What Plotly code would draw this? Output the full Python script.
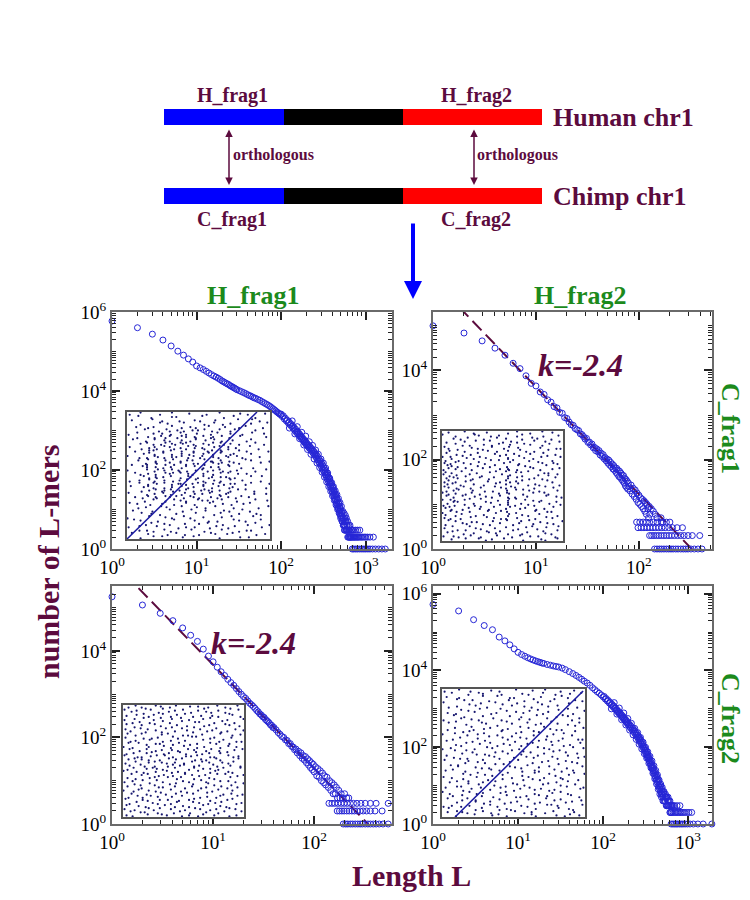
import plotly.graph_objects as go

W, H = 750, 900
PAGE_PAD = 8  # the html body margin shifts the figure by this much on screen
MAROON = "#5c0b3e"
GREEN = "#1c8a1c"
PT_BLUE = "#2626d6"
DOT = "#16166e"
FRAME = "#6a6a6a"
SERIF = "Liberation Serif, Times New Roman, serif"

# ---------------- data ----------------
# chromosome sketch: relative segment lengths (frag1 / middle / frag2)
seg_names = ["frag1", "middle", "frag2"]
seg_len = [1.0, 0.99, 1.16]
seg_colors = ["#0000ff", "#000000", "#ff0000"]

# H_frag1 vs C_frag1 : (L, number of L-mers)
tl_curve = [(1, 590000), (2, 400000), (3, 275000), (4, 195000), (5, 138000), (6, 102000), (7, 81000),
            (8, 65000), (9, 54000), (10, 43000), (11, 38500), (12, 35000), (13, 31500), (14, 28500),
            (15, 26000), (16, 24000), (17, 22500), (18, 21000), (19, 19500), (20, 18000), (21, 17000),
            (22, 16000), (23, 15200), (24, 14500), (25, 13600), (26, 13000), (27, 12400), (28, 11900),
            (29, 11300), (30, 10800), (32, 10200), (34, 9600), (36, 9100), (38, 8600), (40, 8100),
            (42, 7700), (44, 7400), (46, 7000), (48, 6700), (50, 6500), (53, 6100), (56, 5800),
            (59, 5400), (62, 5100), (65, 4800), (68, 4550), (71, 4300), (74, 4050), (77, 3800),
            (80, 3550), (83, 3350), (86, 3150), (89, 2950), (92, 2800), (95, 2650), (98, 2500),
            (100, 2600), (103, 2250), (106, 2350), (109, 1950), (112, 2050), (115, 1750), (118, 1820),
            (121, 1560), (124, 1640), (127, 1400), (130, 1480), (133, 1250), (136, 1320), (139, 1120),
            (142, 1190), (145, 1000), (148, 1080), (151, 900), (154, 960), (157, 820), (160, 880),
            (163, 740), (166, 800), (169, 680), (172, 720), (175, 610), (178, 660), (181, 560),
            (184, 600), (187, 510), (190, 555), (193, 470), (196, 510), (199, 430), (202, 470),
            (206, 400), (210, 430), (214, 360), (218, 395), (222, 330), (226, 360), (230, 300),
            (234, 330), (238, 270), (242, 300), (246, 245), (250, 275), (254, 222), (258, 250),
            (262, 200), (266, 228), (270, 180), (274, 205), (278, 160), (282, 185), (286, 145),
            (290, 168), (294, 130), (298, 152), (302, 116), (306, 138), (310, 104), (314, 124),
            (318, 94), (322, 112), (326, 84), (330, 100), (334, 75), (338, 90), (342, 67), (346, 82),
            (350, 60), (354, 73), (358, 54), (362, 66), (366, 48), (370, 59), (374, 43), (378, 53),
            (382, 38), (386, 47), (390, 34), (394, 43), (398, 30), (402, 39), (406, 27), (410, 35),
            (414, 24), (418, 31), (422, 22), (426, 28), (430, 19), (434, 25), (438, 17), (442, 23),
            (446, 15), (450, 21), (454, 14), (458, 18), (462, 12), (466, 17), (470, 11), (474, 15),
            (478, 10), (482, 14), (486, 9), (490, 12), (494, 8), (498, 11), (502, 7), (506, 10),
            (510, 7), (514, 9), (518, 6), (522, 8), (526, 5), (530, 7), (534, 5), (538, 6), (542, 4),
            (546, 6), (550, 4), (555, 5), (560, 4), (565, 6), (570, 4), (575, 5), (580, 3), (585, 5),
            (590, 3), (595, 4), (600, 3), (606, 4), (612, 2), (618, 3), (624, 2), (630, 3), (636, 2),
            (642, 3), (648, 2)]
tl_spread = [(125, 1150), (135, 1750), (145, 820), (155, 1250), (165, 620), (175, 900), (185, 430),
             (195, 720), (205, 330), (215, 520), (225, 250), (235, 420), (245, 190), (255, 320),
             (265, 150), (275, 250), (285, 115), (295, 190), (305, 88), (315, 150), (325, 66),
             (335, 112), (345, 50), (355, 84), (365, 38), (375, 62), (385, 29), (395, 48), (405, 22),
             (415, 38), (425, 17), (435, 30), (445, 13), (455, 24), (465, 10), (475, 19), (485, 8),
             (495, 15), (505, 6), (515, 12), (525, 5), (535, 9), (545, 4), (555, 8), (565, 3),
             (575, 7), (590, 6), (610, 5), (630, 4), (650, 4), (670, 3), (700, 3)]
tl_ones = [690, 720, 760, 800, 850, 900, 950, 1000, 1060, 1120, 1200, 1300, 1420, 1550, 1700]
tl_twos = [655, 665, 675, 690, 705, 720, 735, 750, 770, 790, 810, 830, 860, 890, 920, 960, 1000,
           1050, 1120, 1230]
tl_threes = [560, 600, 640, 680, 720, 760, 800, 850]

# H_frag2 vs C_frag1
tr_curve = [(1, 100000), (2, 69000), (3, 46000), (4, 31600), (5, 22000), (6, 14500), (7, 11000),
            (8, 7600), (9, 5150), (10, 4500), (11, 3300), (12, 2900), (13, 2200), (14, 1950),
            (15, 1550), (16, 1450), (17, 1150), (18, 1100), (19, 880), (20, 840), (21, 700), (22, 610),
            (23, 590), (24, 500), (25, 470), (26, 450), (27, 380), (28, 365), (29, 330), (30, 290),
            (31, 300), (32, 245), (33, 250), (34, 215), (35, 225), (36, 185), (37, 190), (38, 160),
            (39, 175), (40, 150), (41, 160), (42, 128), (43, 140), (44, 118), (45, 130), (46, 105),
            (47, 112), (48, 95), (49, 104), (50, 84), (51, 98), (52, 76), (53, 88), (54, 70), (55, 80),
            (56, 62), (57, 74), (58, 58), (59, 66), (60, 52), (61, 64), (62, 47), (63, 58), (64, 42),
            (65, 55), (66, 40), (67, 50), (68, 36), (69, 45), (70, 33), (71, 44), (72, 30), (73, 38),
            (74, 26), (75, 36), (76, 24), (77, 33), (78, 22), (79, 30), (80, 25), (82, 20), (84, 27),
            (86, 17), (88, 23), (90, 15), (92, 21), (94, 13), (96, 18), (98, 11), (100, 16), (102, 10),
            (104, 14), (106, 9), (108, 13), (110, 8), (112, 12), (114, 7), (116, 11), (118, 6),
            (120, 10), (122, 8), (124, 5), (126, 9), (128, 6), (132, 8), (138, 7), (144, 6), (150, 5),
            (164, 5), (172, 4)]
tr_ones = [142, 150, 158, 166, 175, 185, 195, 205, 215, 228, 240, 255, 270, 285, 300, 320, 345,
           375, 410]
tr_twos = [127, 133, 140, 148, 156, 165, 175, 185, 196, 208, 222, 238, 255, 275, 300, 330, 390]
tr_threes = [98, 105, 112, 120, 128, 137, 146, 156, 167, 180, 195, 212, 235, 265]
tr_fours = [95, 102, 110, 118, 127, 138, 150, 165, 185, 200]
tr_fit_L = [1, 1000]
tr_fit_n = [1.07e6, 0.068]

# H_frag1 vs C_frag2
bl_curve = [(1, 178000), (2, 115000), (3, 74000), (4, 50000), (5, 34000), (6, 23000), (7, 16600),
            (8, 11000), (9, 7600), (10, 5600), (11, 4200), (12, 3300), (13, 2700), (14, 2200),
            (15, 1850), (16, 1600), (17, 1350), (18, 1150), (19, 1000), (20, 880), (21, 800),
            (22, 700), (23, 620), (24, 570), (25, 520), (26, 470), (27, 420), (28, 390), (29, 350),
            (30, 330), (31, 300), (32, 290), (33, 260), (34, 245), (35, 230), (36, 215), (37, 195),
            (38, 190), (39, 170), (40, 170), (42, 150), (44, 130), (46, 118), (48, 105), (50, 100),
            (52, 88), (54, 85), (56, 72), (58, 72), (60, 62), (62, 60), (64, 52), (66, 54), (68, 44),
            (70, 48), (72, 38), (74, 44), (76, 33), (78, 38), (80, 30), (82, 36), (84, 26), (86, 32),
            (88, 23), (90, 29), (92, 20), (94, 26), (96, 18), (98, 24), (100, 16), (103, 21),
            (106, 13), (109, 19), (112, 12), (115, 17), (118, 10), (121, 15), (124, 9), (127, 13),
            (130, 8), (134, 12), (138, 7), (142, 10), (146, 6), (150, 9), (154, 5), (158, 8),
            (162, 5), (166, 7), (170, 4), (175, 6), (180, 4), (185, 5), (190, 4), (200, 5), (210, 4),
            (220, 4)]
bl_ones = [194, 205, 215, 228, 240, 255, 270, 285, 300, 320, 340, 360, 385, 410, 440, 480, 540]
bl_twos = [169, 178, 188, 198, 210, 222, 236, 250, 266, 285, 305, 330, 360, 400, 470]
bl_threes = [140, 150, 160, 172, 185, 198, 212, 228, 245, 265, 290, 320, 360, 410, 540]
bl_fit_L = [1, 1000]
bl_fit_n = [1.2e6, 0.076]

# H_frag2 vs C_frag2
br_curve = [(1, 525000), (2, 355000), (3, 210000), (4, 148000), (5, 115000), (6, 74000), (7, 59000),
            (8, 46500), (9, 36500), (10, 29600), (11, 26000), (12, 23500), (13, 21500), (14, 20000),
            (15, 18800), (16, 17800), (17, 17000), (18, 16300), (19, 15700), (20, 15200), (22, 14300),
            (24, 13700), (26, 13100), (28, 12700), (30, 12300), (33, 11500), (36, 10500), (40, 9300),
            (44, 8300), (48, 7400), (52, 6600), (56, 5900), (60, 5250), (65, 4700), (70, 4100),
            (75, 3550), (80, 3150), (85, 2800), (90, 2550), (95, 2300), (100, 2050), (103, 2100),
            (106, 1800), (109, 1850), (112, 1600), (115, 1650), (118, 1420), (121, 1480), (124, 1270),
            (127, 1320), (130, 1140), (133, 1190), (136, 1020), (139, 1070), (142, 920), (145, 960),
            (148, 830), (151, 870), (154, 750), (157, 790), (160, 680), (163, 720), (166, 620),
            (169, 660), (172, 560), (175, 600), (178, 510), (181, 550), (184, 470), (187, 500),
            (190, 430), (193, 460), (196, 390), (199, 420), (203, 350), (207, 380), (211, 315),
            (215, 345), (219, 285), (223, 312), (227, 258), (231, 282), (235, 232), (239, 255),
            (243, 208), (247, 230), (251, 186), (255, 206), (259, 166), (263, 185), (267, 148),
            (271, 166), (275, 132), (279, 148), (283, 117), (287, 132), (291, 104), (295, 117),
            (299, 92), (303, 104), (307, 82), (311, 92), (315, 72), (319, 82), (323, 64), (327, 73),
            (331, 56), (335, 64), (339, 50), (343, 57), (347, 44), (351, 50), (355, 39), (359, 45),
            (363, 34), (367, 40), (371, 30), (375, 35), (379, 27), (383, 31), (387, 24), (391, 28),
            (395, 21), (399, 25), (404, 18), (409, 22), (414, 16), (419, 19), (424, 14), (429, 17),
            (434, 12), (439, 15), (444, 10), (449, 13), (454, 9), (459, 11), (464, 8), (469, 10),
            (474, 7), (479, 9), (484, 6), (489, 8), (494, 6), (499, 7), (505, 5), (511, 7), (517, 4),
            (523, 6), (529, 4), (535, 5), (541, 4), (547, 5), (553, 3), (559, 5), (565, 3), (571, 4),
            (577, 3), (583, 4), (589, 3), (595, 4), (601, 3), (610, 2), (620, 3), (630, 2), (640, 3)]
br_spread = [(125, 1000), (135, 1450), (145, 730), (155, 1050), (165, 520), (175, 780), (185, 380),
             (195, 560), (205, 280), (215, 420), (225, 210), (235, 310), (245, 160), (255, 240),
             (265, 120), (275, 180), (285, 90), (295, 135), (305, 68), (315, 100), (325, 52),
             (335, 76), (345, 38), (355, 58), (365, 29), (375, 44), (385, 21), (395, 33), (405, 15),
             (415, 25), (425, 11), (435, 19), (445, 8), (455, 14), (465, 6), (475, 11), (485, 5),
             (495, 9), (505, 4), (520, 7), (540, 6), (560, 5), (580, 5), (610, 4), (640, 3), (670, 3)]
br_ones = [630, 660, 690, 720, 750, 790, 830, 870, 920, 980, 1050, 1150, 1300, 1500, 1900]
br_twos = [617, 640, 665, 690, 715, 740, 770, 800, 830, 870, 910, 960, 1020, 1100]
br_threes = [560, 590, 620, 650, 690, 740, 800]

# dot-plot insets: a digit marks a match, its keypad position gives the spot inside the cell
tl_grid = [
    "3...7.....1..9.....4....2...8.....6..1....5.",
    "...8...2.....6.4.......7.....3..9......2....",
    ".5.....9..3.....1...6.2....4......7...8.3...",
    "....1.....7.5....8.....3..9..2.6......4....7",
    "..6...2.4....9..3..5.1...7....4...2.8....3..",
    ".....8...3..71.5.2..46.9..1.8..3.7.....5....",
    "2..7....4.6..2..8.1..5...3.9...6...2..8...4.",
    "...1..5.2.83.7.29.4.61.8.35..7.2..9.......6.",
    ".9...3..8..5.1..6..2.7..4.9..1..5...3.7.....",
    "....4.7.1.29.63.847.2..5.18.93.6..2....8..1.",
    "6.....3.5..8.4..2.9.37.1..6.8..4.2...9......",
    "..2.8.6.47.1.58.3.7.2..93.4.61.7..5.3...8..2",
    ".....49.2..7.3..6..18..5.72.9..36.....4.....",
    "7..3..1.85.2.6.49.3.8.27..5.1.84.9.2....6...",
    "...5..8.3..6..7.2.5.4..9.31.6..2....8.4....3",
    ".2...61.94.3.72.8.1.56.3..8.47.19.5......7..",
    "....9.4.6..1.5..3.7.9..2.6..4..8...1..3.....",
    "4.....7.28.5.9.61.2..4.73.5.82.3.6.....2..9.",
    "..8.1.5.3..9.47.8.6.1..5..2.9..7..4.6.......",
    ".....73.61.4.8..2.95.3.8.14.6.52.1....7..8..",
    "3..6..9.2..5..1.4.8..7.2..6.3..9...5.....1..",
    "...9..2.74.8.3.65.1.49.27.5.83.6.4..2.7....6",
    ".7...48.1..2.6..9.3.5..8..1.7..25.........3.",
    "....2.6.9.35.81.4.7.2.69.41.5..3..7.8..1....",
    "8.....1.5..7.2..39..6..4.8..2.57.......4..6.",
    "..5.3.8.61.9.4.7.2.85.1..6.39..4.2.7.5......",
    ".....2..7..3..8.5.1..9.46.2..7...3.....8...4",
    "9..4...1..6...2...7.3....8...5..1..6.9......",
    "...2.6....8.4...9....5..1..7....3.......2..8",
    ".6.....3.....7...1.9....4....6.2...8.3......",
    "....8..5..1....4.....7....3.9.....5....6.1..",
    "1.....9....6.3...8.2...5.....4..7.....9.....",
    "..7.4....2....8.....6....1.3....9.5.2....7..",
    ".....3.8...5.1...6....4.9....2.......1.8...3",
    "5..9.....7.....3..4.6....2.8...1.7.......5..",
    "...6..4.1..8.2.....9...3.....7....2.6.4.....",
    ".8....5.....2..7.3....1..9.4..6.8......3..5.",
    "....1...7.9......4..8.......2.....6..5......",
]
tl_diag_x = [0, 40]
tl_diag_y = [0, 38]

tr_grid = [
    "..4....8..2...6......3..9....1...7..5...",
    "7...2.....9.4...1.6.....3.8......2....5.",
    "...6..1.8....3....7..4....2..9.5....1...",
    ".2.....5...7...9....1.6.3.....8...4...6.",
    "....8.3..1...6..2.9...5....7.4...1.8....",
    "9.1......6.3....8...2.7..4......5....3.1",
    "..5..7.2.....8.4..1..6...9.3..2....7....",
    ".8..3....2.9.....5...1.6.....4...8...2..",
    "4.6...9.1...5.2....7.3...8.1....6.9....4",
    ".1.7.2....8.....4.6..9.5....3.7.....2...",
    "6.3.8..4.2..7.1.....5.8..2.....9.4..6.1.",
    ".9.4.1.....6...3.8...2...7.5.1....8.....",
    "2.7.5..9.3...8.....4.61.3.....7.2...5.9.",
    ".4.1..8....2...6.9...7..5.4.8....3.1....",
    "8.2.6..3.7...1.....9.35...2....6...4..7.",
    ".5.9.4....1.8..2.7...6..9...3.5..1...8..",
    "3.7.2..6.8.....4...1.72.5.8.......9.2...",
    ".6.8..1...5..3...9...4...7..2.6.1.....3.",
    "9.4.3..7.2..6....8.5.19.4.....2...7.6...",
    ".2.6.8....4...1.3....5..8.9.6...1.....4.",
    "7.1.5..3.9..2.....6..84...3...7..9.1....",
    ".8.3..9...6...5.2..7.3..1...4.....8..6.2",
    "4.6.1..5.7..9.....2..37.8..5..1.3.......",
    ".3.9.7....2...8.4....6....1.....7..2.9..",
    "5.2.4..8..6.3....1.7.92.4...8.5.....3..7",
    ".7.1..3.9...5..2.....4...6.8...1.6......",
    "1.9.6....4.....7.3.8.5..2.....9...6.4...",
    ".4..2.8....1.6.......37...5.2...7.....1.",
    "6.3...1..8....9..4.2.1..6.....3...8.5...",
    "..7.5....3.2....6....8....4.9...2......6",
    ".1....9.4....5.3...7...2.8....4...9.6...",
    "3..8.....7.1.....2...4.....6.9....5...8.",
    "...2.4.6....9.3....1...5.7.....8.2....4.",
    ".9.....1..5....8.6...3....2.7.....4.1...",
    "5..6.2...8..3.....7....1.9...4.6.....2..",
    "...4...9....7.2.5...8.....3.....6.1...7.",
]

bl_grid = [
    ".3..7.1...9.5..2.8....4.6...1..7.3...9..",
    "5...2..8.4...7...1.6....3.9....2...8..4.",
    "..9...3....6.1.7....2.5....8.4...6.1....",
    ".4..8...2.7....3.9.....1.6...5.2....7.3.",
    "2..6..9...1.8...4..7.3....5.9.....2....6",
    "...1.5..3....7.2...8...6.4....1.9...3...",
    ".7....4...8.2....6...1....3.5....9.4..2.",
    "3..9.6..1.....4.7..5...8.2....6......1..",
    "..5....2..9.3....4...7.1...6.8..2.5....9",
    ".8..1.7.....6.9....3.2....4.....7...1.6.",
    "6.....3..2.5....8.1...9.7...3.4....6....",
    "..2.4...9....1.6....5.....8....3.7...2.1",
    ".9...7.3..6.4...2.8...1.5...9.6....4....",
    "4..1....5....8.3....7...2.6.....1.9..5..",
    "..7..2.9..3.6...4.1..8.5...2.7.3....6..8",
    ".1.5...6.8...2.4..9.3...7.1.5...4.8.....",
    "8...3.1..4.7.9..2...6.5.8...3.1...9.2.4.",
    ".6.9..4.2...1..7.5.8...3.6.2..9.1.....7.",
    "3...7...5.8.6.2..4..1.9...7.5...6.3.8...",
    "..4..9.1..2...3.8.6.7..2.4...9.1...5..3.",
    ".2.8...6.9.4.1...7...3.8..5.6..2.7....9.",
    "7...5.3...6...8.1.4.2...9...3.8...6.1...",
    "..9...4.7..3.5..2...8.6..1.4...7.9...3.6",
    ".5..1...6.8...9..3.7...2....5.1....8....",
    "2..4..8....7.1.....6.3...9.2....4.6..1..",
    "...6.3..9.2....5.8.....4....7.1....3...9",
    ".8....1....6.4...7..2.9..3.5....8.2..6..",
    "4..2.7..5.3....9...1....6....2.8....4...",
    "..6....3....8.1..5...7.4...9.....1.6...2",
    ".3..9.2..7.5....4..8.....2.6..3.7....9..",
    "9.....5.1...4.6...2..6.8....3.....5.7...",
    "..1.8....6.2...3.9.....7.4..1.5.8....2.4",
    ".7...4.2.....9...1.6.3....8.....4.1.....",
    "5..3....8.1.7..6....2..9.5..3.6....7.4..",
    "..8..6.4...2....3.9...1....5...2.8.....7",
    ".4.1....7...9.5....2.6..3.8...4....1.5..",
]

br_grid = [
    "3....8...1.....6..2....9.....4...7....1...5...",
    "...7....2..9.4.....1.....6.3....8...2....4..9.",
    ".5...2.......7...9...3.1.......6......8.2.....",
    "....9..4.6.....1.....5....2..8....3.7.....6..1",
    "8.......3...5....7.2....4.....9.1.......6.....",
    "..1.6.....9...2.......8...5.3.....4..7.....2..",
    "......4.2...7.....9.3.......1.6......5..8....3",
    ".6..2.....8....3.5.....9..4.....2.7.......1...",
    "...9...1.....4.......6...2....8.....3.9.5.....",
    "2.....7..5.3....8..1....6...4....9.......3..7.",
    "..4.8.......6.1.....9.2....5...3...7.1......4.",
    ".......9.2.......6.......1....7.3.......8.6...",
    ".3..7.....1..5.8...2.4.....9......6.3.2......8",
    "....1.6.9....2.....7...3.5...8.4.......1..9...",
    "7.......4..8...1.6....2......5...3.9.....6....",
    "...2.9.....5.......8.1...7.4.....2....6....3.1",
    ".8.....3.6...9.2.......5.....1.7...4.8......2.",
    "....5.1.....7....3.9.6...2.8.......5...1.4....",
    "1.6.......2...8.4.......3.....9.6.2.......7..5",
    "....7..9.3.......1.5..8...4.2......6.9.3......",
    ".2....8....4.6.1.....7...5....3.9.......2..8..",
    "...6.3..1.......9.2....4...7.5.....8.1.....6.9",
    "9.......5..2.7.......3..8.......1.4....6.3....",
    "..3..1.8.....9...4.6.......2.7.......5.....8..",
    ".....7....6.3..1.....9.5.2.....4..8.....1....7",
    ".4.8...2.......9..5......3...6.1....7.2...4...",
    "......6..1.8.3.....2.7.......9....5.....3.8..6",
    "5..1.......4....7.....2..9.6....3...8.1.......",
    "....3.9.2.....6..1.8......4..7.5......9.2..6..",
    "..8.....5..3.7........6.1.......2.4.9.....3...",
    ".1..6.4.....2...9.3.5.....8.1.........7.4....2",
    "......3..8.....5.......1.7...6.9..2.4.......8.",
    "7.2.....9..1.4....6.8........3.....5..7.2.....",
    "...5..8.....6...2...9..3.1.4...7.6.......8..1.",
    ".9....2.7.3.......5........6.....8..1.4.....3.",
    "....6.....9..2.8....1.4.7....3.5.......6.9....",
    "2..4..1.6......8.3.......5.2.....9.7.4.......7",
    "..7.......3.9.....2.6.1.......4......8..6.1...",
    ".6..9.5.1....7.3.......8..2.6....1.9......5...",
    "....2.....8.....4.7.3.......9.1.....6..2.7..4.",
]
br_diag_x = [4.2, 45.4]
br_diag_y = [0, 39.4]


# ---------------- helpers ----------------
def px(x):
    return (x - PAGE_PAD) / W


def py(y):
    return 1 - (y - PAGE_PAD) / H


def grid_dots(rows):
    # keypad layout: 7 8 9 / 4 5 6 / 1 2 3
    xs, ys = [], []
    n = len(rows)
    for r, line in enumerate(rows):
        for c, ch in enumerate(line):
            if ch.isdigit() and ch != "0":
                d = int(ch) - 1
                xs.append(c + 0.17 + 0.33 * (d % 3))
                ys.append(n - r - 1 + 0.17 + 0.33 * (d // 3))
    return xs, ys


def ax_name(i, kind):
    return kind if i == 1 else f"{kind}{i}"


def log_axis(rng, step, dom, anchor):
    top = int(rng[1]) + 1
    ks = list(range(0, top, step))
    minor_vals = [m * 10 ** k for k in range(top) for m in range(2, 10)]
    minor_vals += [10 ** k for k in range(top) if k % step]
    return dict(
        type="log", range=rng, domain=dom, anchor=anchor, automargin=False,
        tickmode="array", tickvals=[10 ** k for k in ks],
        ticktext=[f"10<sup>{k}</sup>" for k in ks],
        ticks="inside", ticklen=8, tickwidth=1.5, tickcolor="#222",
        minor=dict(tickmode="array", tickvals=minor_vals, ticks="inside",
                   ticklen=4, tickwidth=1, tickcolor="#222"),
        showline=True, linecolor=FRAME, linewidth=2, mirror="ticks",
        showgrid=False, zeroline=False,
        tickfont=dict(family=SERIF, size=19, color="black"),
    )


def plain_axis(rng, dom, anchor):
    return dict(range=rng, domain=dom, anchor=anchor, automargin=False, showline=True,
                mirror=True, linecolor="#555", linewidth=2, ticks="", showticklabels=False,
                showgrid=False, zeroline=False)


# ---------------- panels ----------------
panels = [
    dict(curve=tl_curve + tl_spread, rows=[(1, tl_ones), (2, tl_twos), (3, tl_threes)], fit=None,
         xr=[0, 3.31], yr=[0, 6], box=(112, 312, 392, 549),
         grid=tl_grid, ibox=(127, 412, 270, 539), diag=(tl_diag_x, tl_diag_y)),
    dict(curve=tr_curve, rows=[(1, tr_ones), (2, tr_twos), (3, tr_threes), (4, tr_fours)],
         fit=(tr_fit_L, tr_fit_n),
         xr=[0, 2.71], yr=[0, 5.31], box=(433, 312, 712, 549),
         grid=tr_grid, ibox=(442, 431, 563, 541), diag=None),
    dict(curve=bl_curve, rows=[(1, bl_ones), (2, bl_twos), (3, bl_threes)],
         fit=(bl_fit_L, bl_fit_n),
         xr=[0, 2.77], yr=[0, 5.5], box=(112, 586, 392, 824),
         grid=bl_grid, ibox=(123, 705, 244, 817), diag=None),
    dict(curve=br_curve + br_spread, rows=[(1, br_ones), (2, br_twos), (3, br_threes)], fit=None,
         xr=[0, 3.28], yr=[0, 6.2], box=(433, 586, 712, 824),
         grid=br_grid, ibox=(442, 689, 585, 817), diag=(br_diag_x, br_diag_y)),
]

fig = go.Figure()
layout_axes = {}

for i, p in enumerate(panels, start=1):
    xa, ya = ax_name(i, "x"), ax_name(i, "y")
    x0, y0, x1, y1 = p["box"]
    layout_axes[ax_name(i, "xaxis")] = log_axis(p["xr"], 1, [px(x0), px(x1)], ya)
    layout_axes[ax_name(i, "yaxis")] = log_axis(p["yr"], 2, [py(y1), py(y0)], xa)

    if p["fit"]:
        fig.add_trace(go.Scatter(x=p["fit"][0], y=p["fit"][1], mode="lines", xaxis=xa, yaxis=ya,
                                 line=dict(color=MAROON, width=2, dash="13px,6px")))
    L = [v[0] for v in p["curve"]]
    n = [v[1] for v in p["curve"]]
    for cnt, Ls in p["rows"]:
        L += Ls
        n += [cnt] * len(Ls)
    fig.add_trace(go.Scatter(x=L, y=n, mode="markers", xaxis=xa, yaxis=ya, cliponaxis=False,
                             marker=dict(symbol="circle-open", size=6, color=PT_BLUE,
                                         line=dict(width=1))))

    # inset dot plot
    j = i + 4
    xi, yi = ax_name(j, "x"), ax_name(j, "y")
    ix0, iy0, ix1, iy1 = p["ibox"]
    ncol = max(len(r) for r in p["grid"])
    nrow = len(p["grid"])
    layout_axes[ax_name(j, "xaxis")] = plain_axis([0, ncol], [px(ix0), px(ix1)], yi)
    layout_axes[ax_name(j, "yaxis")] = plain_axis([0, nrow], [py(iy1), py(iy0)], xi)
    dx, dy = grid_dots(p["grid"])
    fig.add_trace(go.Scatter(x=dx, y=dy, mode="markers", xaxis=xi, yaxis=yi,
                             marker=dict(size=2.2, color=DOT, line=dict(width=0))))
    if p["diag"]:
        fig.add_trace(go.Scatter(x=p["diag"][0], y=p["diag"][1], mode="lines", xaxis=xi, yaxis=yi,
                                 line=dict(color="#1a1aa0", width=1.5)))

# ---------------- chromosome sketch ----------------
for name, ln, col in zip(seg_names, seg_len, seg_colors):
    fig.add_trace(go.Bar(x=[ln, ln], y=[0, 1], orientation="h", width=0.2, name=name,
                         marker=dict(color=col, line=dict(width=0)), xaxis="x9", yaxis="y9"))
layout_axes["xaxis9"] = dict(range=[0, sum(seg_len)], domain=[px(164), px(542)], anchor="y9",
                             visible=False, automargin=False)
layout_axes["yaxis9"] = dict(range=[-0.5, 1.5], domain=[py(235.5), py(77.5)], anchor="x9",
                             visible=False, automargin=False)

ann = []


def text(x, y, s, size, color, angle=0, xanchor="center"):
    ann.append(dict(x=px(x), y=py(y), xref="paper", yref="paper", text=s, showarrow=False,
                    textangle=angle, xanchor=xanchor, yanchor="middle",
                    font=dict(family=SERIF, size=size, color=color)))


text(232, 95, "<b>H_frag1</b>", 20, MAROON)
text(476, 95, "<b>H_frag2</b>", 20, MAROON)
text(232, 220, "<b>C_frag1</b>", 20, MAROON)
text(476, 220, "<b>C_frag2</b>", 20, MAROON)
text(551, 117, "<b>Human chr1</b>", 26, MAROON, xanchor="left")
text(551, 196, "<b>Chimp chr1</b>", 26, MAROON, xanchor="left")
text(231, 155, "<b>orthologous</b>", 16, MAROON, xanchor="left")
text(475, 155, "<b>orthologous</b>", 16, MAROON, xanchor="left")

for xa_ in (229, 474):
    ann.append(dict(x=px(xa_), y=py(185), xref="paper", yref="paper", ax=0, ay=-57,
                    showarrow=True, arrowside="end+start", arrowhead=2, arrowsize=1,
                    arrowwidth=1.5, arrowcolor=MAROON, text=""))
ann.append(dict(x=px(413), y=py(299), xref="paper", yref="paper", ax=0, ay=-77,
                showarrow=True, arrowhead=2, arrowsize=0.9, arrowwidth=4, arrowcolor="#0000ff",
                text=""))

text(253, 295, "<b>H_frag1</b>", 26, GREEN)
text(580, 295, "<b>H_frag2</b>", 26, GREEN)
text(731, 428, "<b>C_frag1</b>", 26, GREEN, angle=90)
text(731, 718, "<b>C_frag2</b>", 26, GREEN, angle=90)
text(580, 365, "<b><i>k=-2.4</i></b>", 32, MAROON)
text(253, 643, "<b><i>k=-2.4</i></b>", 32, MAROON)
text(48, 562, "<b>number of L-mers</b>", 30, MAROON, angle=-90)
text(412, 875, "<b>Length L</b>", 30, MAROON)

fig.update_layout(
    template="none",
    width=W, height=H, margin=dict(l=0, r=0, t=0, b=0, autoexpand=False),
    paper_bgcolor="white", plot_bgcolor="white", showlegend=False,
    barmode="stack", annotations=ann, **layout_axes,
)

fig.write_html("out.html")
